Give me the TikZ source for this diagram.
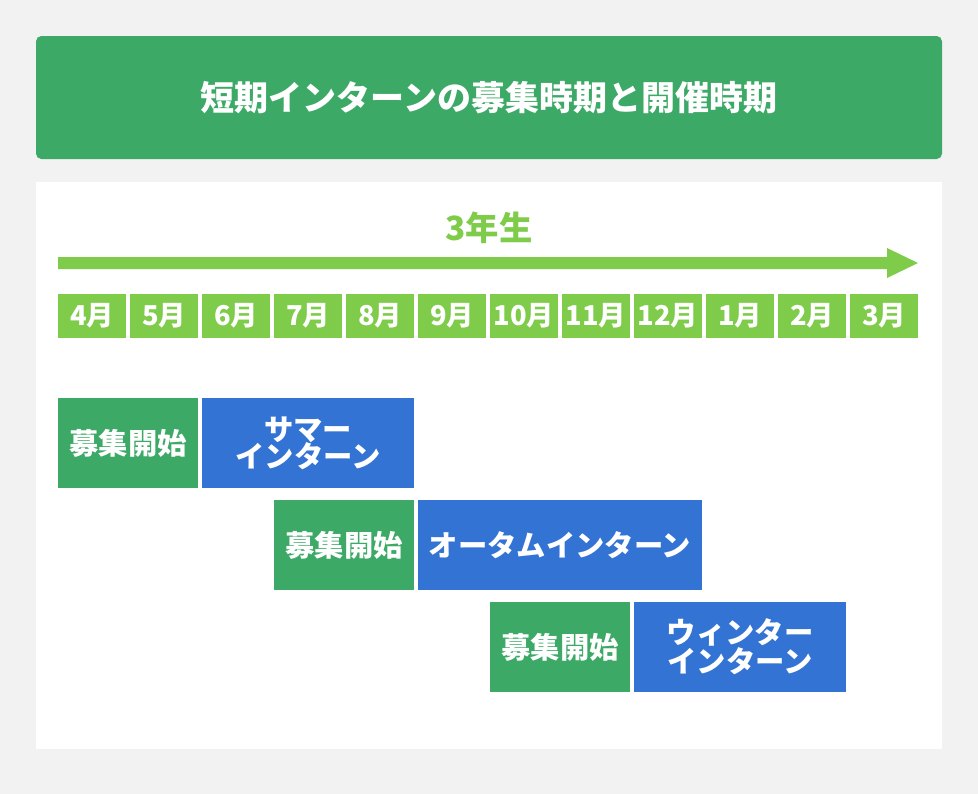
\documentclass[tikz,border=0pt]{standalone}
\usepackage{fontspec}
\setmainfont{Noto Sans CJK JP}
\definecolor{bggray}{HTML}{F2F2F2}
\definecolor{titlegreen}{HTML}{3CA966}
\definecolor{lightgreen}{HTML}{7ECC49}
\definecolor{barblue}{HTML}{3373D3}
\newcommand\mybox[7]{%
  \node[boxbase, fill=#6, minimum width={(#4-#2)*0.75pt}, minimum height={(#5-#3)*0.75pt}]
    (#1) at ({(#2+#4)/2},{(#3+#5)/2}) {#7};}
\begin{document}
\begin{tikzpicture}[x=0.75pt,y=-0.75pt,
  boxbase/.style={inner sep=0pt, outer sep=0pt, text=white, align=center,
    font=\bfseries\fontsize{22}{20.5}\selectfont},
  monthbox/.style={boxbase, fill=lightgreen, font=\bfseries\fontsize{20.5}{20}\selectfont}]
\fill[bggray] (0,0) rectangle (978,794);
\useasboundingbox (0,0) rectangle (978,794);
% title
\node[boxbase, fill=titlegreen, rounded corners=4pt, minimum width={906*0.75pt}, minimum height={123*0.75pt},
  font=\bfseries\fontsize{25.5}{27}\selectfont] (title) at (489,97.5) {短期インターンの募集時期と開催時期};
% white panel
\node[inner sep=0pt, outer sep=0pt, fill=white, minimum width={906*0.75pt}, minimum height={567*0.75pt}] (panel) at (489,465.5) {};
% year label
\node[inner sep=0pt, text=lightgreen, font=\bfseries\fontsize{25}{26}\selectfont] (year) at (489,228) {3年生};
% arrow
\fill[lightgreen] (58,257) -- (887,257) -- (887,248) -- (918,263) -- (887,278) -- (887,269) -- (58,269) -- cycle;
% months
\foreach \m [count=\i from 0] in {4,5,6,7,8,9,10,11,12,1,2,3} {
  \pgfmathsetmacro\cx{92+72*\i}
  \node[monthbox, minimum width={68*0.75pt}, minimum height={44*0.75pt}] (m\i) at (\cx,316) {\m 月};
}
% bars
\mybox{r1g}{58}{398}{198}{488}{titlegreen}{募集開始}
\mybox{r1b}{202}{398}{414}{488}{barblue}{サマー\\インターン}
\mybox{r2g}{274}{500}{414}{590}{titlegreen}{募集開始}
\mybox{r2b}{418}{500}{702}{590}{barblue}{オータムインターン}
\mybox{r3g}{490}{602}{630}{692}{titlegreen}{募集開始}
\mybox{r3b}{634}{602}{846}{692}{barblue}{ウィンター\\インターン}
\end{tikzpicture}
\end{document}
